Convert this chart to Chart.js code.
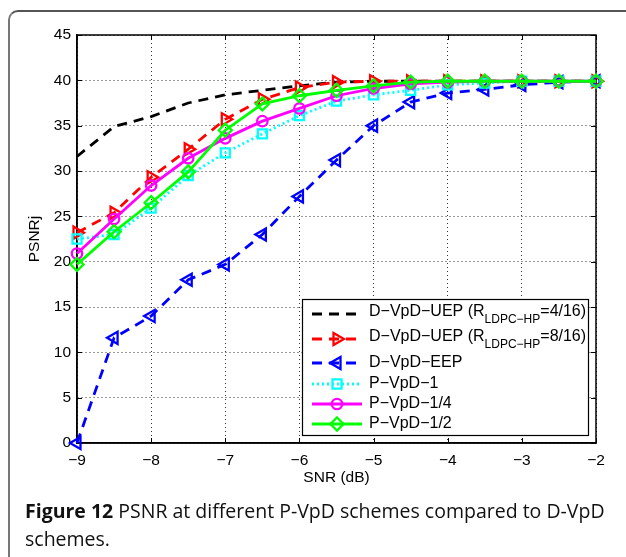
<!DOCTYPE html>
<html>
<head>
<meta charset="utf-8">
<script src="https://cdn.jsdelivr.net/npm/chart.js@4.4.1/dist/chart.umd.min.js"></script>
<style>
  html, body { margin: 0; padding: 0; background: #fff; }
  #page { position: relative; width: 626px; height: 557px; overflow: hidden; }
  #frame { position: absolute; left: 8px; top: 10px; width: 660px; height: 600px;
           border-left: 2px solid #777; border-top: 2px solid #555; border-top-left-radius: 10px; }
  #chart-box { position: absolute; left: 0; top: 0; width: 626px; height: 500px; }
  #caption { position: absolute; left: 25px; top: 497px; width: 598px; color: #111;
             font-family: "Open Sans", sans-serif; font-size: 19.5px; line-height: 28px; }
</style>
</head>
<body>
<div id="page">
  <div id="frame"></div>
  <div id="chart-box"><canvas id="chart-canvas"></canvas></div>
  <div id="caption"><b>Figure 12</b> PSNR at different P-VpD schemes compared to D-VpD schemes.</div>
</div>
<script>
// SNR (dB) sample points
const snr = [-9, -8.5, -8, -7.5, -7, -6.5, -6, -5.5, -5, -4.5, -4, -3.5, -3, -2.5, -2];

// PSNR values
const uep4  = [31.6, 34.9, 36.0, 37.5, 38.4, 38.9, 39.4, 39.8, 39.9, 39.9, 39.9, 39.9, 39.9, 39.9, 39.9];
const uep8  = [23.2, 25.4, 29.3, 32.4, 35.7, 37.9, 39.2, 39.8, 39.9, 39.9, 39.9, 39.9, 39.9, 39.9, 39.9];
const eep   = [0, 11.6, 14.0, 18.0, 19.7, 23.0, 27.2, 31.2, 35.0, 37.6, 38.6, 39.0, 39.5, 39.8, 39.9];
const pvpd1  = [22.5, 23.0, 25.9, 29.5, 32.0, 34.1, 36.1, 37.7, 38.4, 38.9, 39.5, 39.7, 39.9, 39.9, 39.9];
const pvpd14 = [20.9, 24.7, 28.4, 31.4, 33.6, 35.5, 36.9, 38.3, 39.1, 39.6, 39.8, 39.9, 39.9, 39.9, 39.9];
const pvpd12 = [19.7, 23.3, 26.5, 29.9, 34.5, 37.4, 38.3, 38.9, 39.4, 39.8, 39.9, 39.9, 39.9, 39.9, 39.9];

// _{...} marks a subscript
const seriesNames = [
  'D\u2212VpD\u2212UEP (R_{LDPC\u2212HP}=4/16)',
  'D\u2212VpD\u2212UEP (R_{LDPC\u2212HP}=8/16)',
  'D\u2212VpD\u2212EEP',
  'P\u2212VpD\u22121',
  'P\u2212VpD\u22121/4',
  'P\u2212VpD\u22121/2'
];

const FONT = '"Liberation Sans", Arial, Helvetica, sans-serif';
Chart.defaults.font.family = FONT;
Chart.defaults.color = '#000';

const fmt = v => v < 0 ? '\u2212' + Math.abs(v) : String(v);
const pts = ys => snr.map((x, i) => ({ x: x, y: ys[i] }));

function drawMarker(ctx, ds, x, y) {
  const r = ds.pointRadius;
  if (!r) return;
  ctx.save();
  ctx.translate(x, y);
  ctx.rotate((ds.pointRotation || 0) * Math.PI / 180);
  ctx.strokeStyle = ds.borderColor;
  ctx.lineWidth = ds.pointBorderWidth;
  ctx.setLineDash([]);
  ctx.beginPath();
  if (ds.pointStyle === 'circle') {
    ctx.arc(0, 0, r, 0, Math.PI * 2);
  } else if (ds.pointStyle === 'rect') {
    const s = r * Math.SQRT1_2;
    ctx.rect(-s, -s, 2 * s, 2 * s);
  } else if (ds.pointStyle === 'rectRot') {
    ctx.moveTo(0, -r); ctx.lineTo(r, 0); ctx.lineTo(0, r); ctx.lineTo(-r, 0);
    ctx.closePath();
  } else if (ds.pointStyle === 'triangle') {
    for (let k = 0; k < 3; k++) {
      const a = k * Math.PI * 2 / 3;
      ctx.lineTo(Math.sin(a) * r, -Math.cos(a) * r);
    }
    ctx.closePath();
  }
  ctx.stroke();
  ctx.restore();
}

function drawLabel(ctx, text, x, y) {
  const parts = text.split(/_\{|\}/);
  const yMain = parts.length > 1 ? y - 2 : y;
  ctx.fillStyle = '#000';
  ctx.textAlign = 'left';
  ctx.textBaseline = 'middle';
  parts.forEach((p, k) => {
    const sub = k % 2 === 1;
    ctx.font = (sub ? '12px ' : '16px ') + FONT;
    ctx.fillText(p, x, sub ? yMain + 8 : yMain);
    x += ctx.measureText(p).width;
  });
}

// matlab style box with inward ticks
const boxPlugin = {
  id: 'boxPlugin',
  beforeDatasetsDraw(chart) {
    const { ctx, chartArea: a, scales: { x, y } } = chart;
    ctx.save();
    ctx.strokeStyle = '#000';
    ctx.lineWidth = 1;
    ctx.beginPath();
    x.ticks.forEach(t => {
      const px = Math.round(x.getPixelForValue(t.value)) + 0.5;
      ctx.moveTo(px, a.bottom); ctx.lineTo(px, a.bottom - 5);
      ctx.moveTo(px, a.top); ctx.lineTo(px, a.top + 5);
    });
    y.ticks.forEach(t => {
      const py = Math.round(y.getPixelForValue(t.value)) + 0.5;
      ctx.moveTo(a.left, py); ctx.lineTo(a.left + 5, py);
      ctx.moveTo(a.right, py); ctx.lineTo(a.right - 5, py);
    });
    ctx.stroke();
    ctx.lineWidth = 1.5;
    ctx.strokeRect(a.left, a.top, a.right - a.left, a.bottom - a.top);
    ctx.restore();
  }
};

const legendRows = [15, 40, 64, 85, 105, 125];
const legendPlugin = {
  id: 'legendBox',
  afterDraw(chart) {
    const { ctx, chartArea: a } = chart;
    const w = 286, h = 136;
    const x0 = a.right - 8 - w, y0 = a.bottom - 8 - h;
    ctx.save();
    ctx.fillStyle = '#fff';
    ctx.fillRect(x0, y0, w, h);
    ctx.strokeStyle = '#000';
    ctx.lineWidth = 1.2;
    ctx.strokeRect(x0 + 0.5, y0 + 0.5, w, h);
    chart.data.datasets.forEach((ds, i) => {
      const y = y0 + legendRows[i];
      ctx.strokeStyle = ds.borderColor;
      ctx.lineWidth = ds.borderWidth;
      ctx.setLineDash(ds.borderDash || []);
      ctx.beginPath();
      ctx.moveTo(x0 + 10, y);
      ctx.lineTo(x0 + 60, y);
      ctx.stroke();
      drawMarker(ctx, ds, x0 + 35, y);
      drawLabel(ctx, seriesNames[i], x0 + 67, y);
    });
    ctx.restore();
  }
};

const common = {
  borderWidth: 2.8,
  pointBorderWidth: 2.3,
  pointBackgroundColor: 'rgba(0,0,0,0)',
  pointHoverRadius: 0,
  tension: 0,
  clip: false
};

new Chart(document.getElementById('chart-canvas'), {
  type: 'line',
  plugins: [boxPlugin, legendPlugin],
  data: {
    datasets: [
      { ...common, label: seriesNames[0], data: pts(uep4), order: 5,
        borderColor: '#000000', borderDash: [10, 7], pointRadius: 0 },
      { ...common, label: seriesNames[1], data: pts(uep8), order: 4,
        borderColor: '#ff0000', borderDash: [10, 7],
        pointStyle: 'triangle', pointRotation: 90, pointRadius: 7 },
      { ...common, label: seriesNames[2], data: pts(eep), order: 3,
        borderColor: '#0000ff', borderDash: [10, 7],
        pointStyle: 'triangle', pointRotation: -90, pointRadius: 7 },
      { ...common, label: seriesNames[3], data: pts(pvpd1), order: 2,
        borderColor: '#00ffff', borderDash: [2, 3],
        pointStyle: 'rect', pointRadius: 6.4 },
      { ...common, label: seriesNames[4], data: pts(pvpd14), order: 1,
        borderColor: '#ff00ff',
        pointStyle: 'circle', pointRadius: 5.2 },
      { ...common, label: seriesNames[5], data: pts(pvpd12), order: 0,
        borderColor: '#00ff00',
        pointStyle: 'rectRot', pointRadius: 6.5 }
    ]
  },
  options: {
    responsive: true,
    maintainAspectRatio: false,
    animation: false,
    layout: { padding: { top: 35, right: 30, left: 0, bottom: 0 } },
    plugins: {
      legend: { display: false },
      tooltip: { enabled: false }
    },
    scales: {
      x: {
        type: 'linear',
        min: -9,
        max: -2,
        afterFit: s => { s.height = 57; },
        ticks: { stepSize: 1, callback: fmt, padding: 8, maxRotation: 0, font: { size: 15.5 } },
        grid: { color: '#000', lineWidth: 0.8, drawTicks: false },
        border: { color: '#000', width: 1.5, dash: [1, 3] },
        title: { display: true, text: 'SNR (dB)', font: { size: 15.5 }, padding: { top: 0, bottom: 13 } }
      },
      y: {
        min: 0,
        max: 45,
        afterFit: s => { s.width = 77; },
        ticks: { stepSize: 5, callback: fmt, padding: 6, font: { size: 15.5 } },
        grid: { color: '#000', lineWidth: 0.8, drawTicks: false },
        border: { color: '#000', width: 1.5, dash: [1, 3] },
        title: { display: true, text: 'PSNRj', font: { size: 15.5 }, padding: { top: 25, bottom: 0 } }
      }
    }
  }
});
</script>
</body>
</html>
